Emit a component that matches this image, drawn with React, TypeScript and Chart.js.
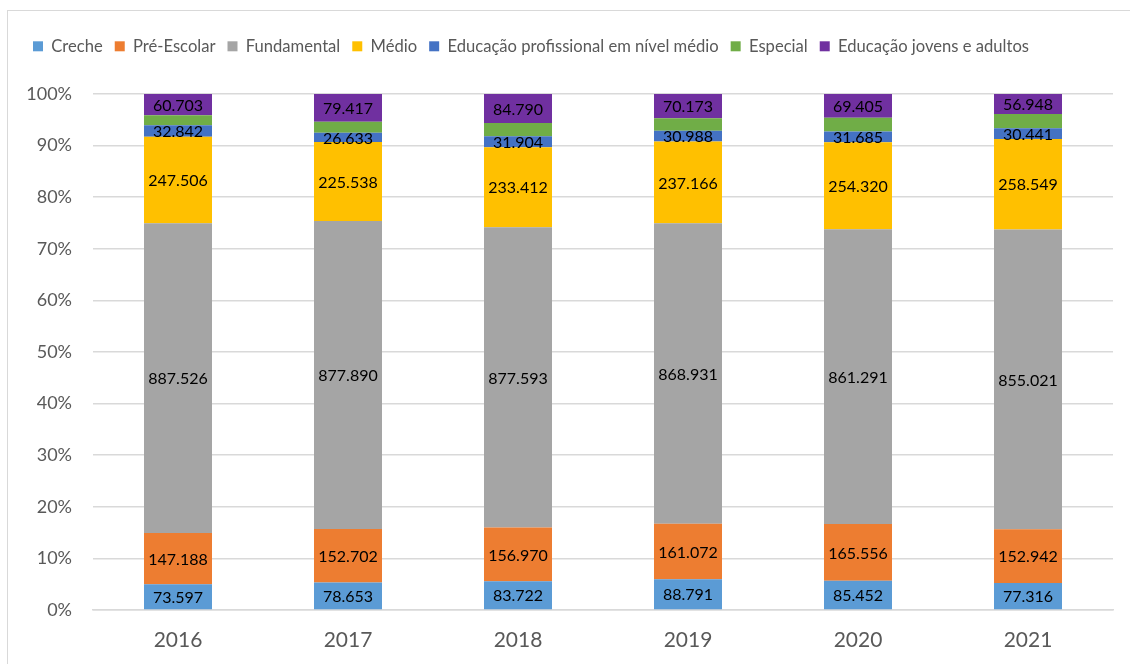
import React, { useEffect, useRef } from "react";
import { Chart, registerables } from "chart.js";

Chart.register(...registerables);

const years = ["2016", "2017", "2018", "2019", "2020", "2021"];
const seriesNames = [
  "Creche",
  "Pré-Escolar",
  "Fundamental",
  "Médio",
  "Educação profissional em nível médio",
  "Especial",
  "Educação jovens e adultos",
];
const creche = [73597, 78653, 83722, 88791, 85452, 77316];
const preEscolar = [147188, 152702, 156970, 161072, 165556, 152942];
const fundamental = [887526, 877890, 877593, 868931, 861291, 855021];
const medio = [247506, 225538, 233412, 237166, 254320, 258549];
const educProf = [32842, 26633, 31904, 30988, 31685, 30441];
const especial = [28900, 31000, 39000, 36000, 40000, 41000];
const eja = [60703, 79417, 84790, 70173, 69405, 56948];
const yTickLabels = ["0%", "10%", "20%", "30%", "40%", "50%", "60%", "70%", "80%", "90%", "100%"];

const colors = ["#5B9BD5", "#ED7D31", "#A5A5A5", "#FFC000", "#4472C4", "#70AD47", "#7030A0"];
const showLabel = [true, true, true, true, true, false, true];

const FONT = "Lato, 'Open Sans', sans-serif";

function fmt(v: number): string {
  const th = Math.floor(v / 1000);
  const rest = String(v % 1000).padStart(3, "0");
  return th + "." + rest;
}

export default function App() {
  const ref = useRef<HTMLCanvasElement | null>(null);

  useEffect(() => {
    document.body.style.margin = "0";
    const raw = [creche, preEscolar, fundamental, medio, educProf, especial, eja];
    const totals = years.map((_, i) => raw.reduce((s, arr) => s + arr[i], 0));
    const datasets = raw.map((arr, k) => ({
      label: seriesNames[k],
      data: arr.map((v, i) => (v / totals[i]) * 100),
      rawValues: arr,
      backgroundColor: colors[k],
      borderWidth: 0,
      categoryPercentage: 1,
      barPercentage: 0.4,
    }));

    const labelPlugin = {
      id: "segLabels",
      afterDatasetsDraw(chart: any) {
        const ctx = chart.ctx;
        ctx.save();
        ctx.font = `16px ${FONT}`;
        ctx.fillStyle = "#000000";
        ctx.textAlign = "center";
        ctx.textBaseline = "middle";
        chart.data.datasets.forEach((ds: any, k: number) => {
          if (!showLabel[k]) return;
          const meta = chart.getDatasetMeta(k);
          meta.data.forEach((bar: any, i: number) => {
            const y = (bar.y + bar.base) / 2;
            ctx.fillText(fmt(ds.rawValues[i]), bar.x, y + 1);
          });
        });
        ctx.restore();
      },
    };

    const legendHeightPlugin = {
      id: "legendHeight",
      beforeInit(chart: any) {
        if (chart.legend) {
          const orig = chart.legend.fit;
          chart.legend.fit = function () {
            orig.call(this);
            this.height = 68;
          };
        }
      },
    };

    const chart = new Chart(ref.current as HTMLCanvasElement, {
      type: "bar",
      data: { labels: years, datasets: datasets as any },
      options: {
        animation: false,
        responsive: false,
        devicePixelRatio: 1,
        layout: { padding: { left: 21, right: 17, top: 26, bottom: 10 } },
        plugins: {
          tooltip: { enabled: false },
          legend: {
            position: "top",
            align: "start",
            labels: {
              boxWidth: 10,
              boxHeight: 10,
              padding: 12,
              color: "#595959",
              font: { family: FONT, size: 16.6 },
            },
          },
        },
        scales: {
          x: {
            stacked: true,
            grid: { display: false, drawTicks: false },
            border: { color: "#D9D9D9", width: 1.5 },
            ticks: { color: "#595959", font: { family: FONT, size: 21 }, padding: 18 },
            afterFit: (s: any) => {
              s.height = 44;
            },
          },
          y: {
            stacked: true,
            min: 0,
            max: 100,
            grid: { color: "#D9D9D9", lineWidth: 1.5, drawTicks: false },
            border: { display: false },
            ticks: {
              stepSize: 10,
              color: "#595959",
              padding: 21,
              font: { family: FONT, size: 18 },
              callback: (v: any) => yTickLabels[Math.round(Number(v) / 10)],
            },
            afterFit: (s: any) => {
              s.width = 72;
            },
          },
        },
      },
      plugins: [labelPlugin, legendHeightPlugin],
    });
    return () => chart.destroy();
  }, []);

  return (
    <div style={{ position: "relative", width: 1130, height: 664, overflow: "hidden", background: "#fff" }}>
      <div
        style={{
          position: "absolute",
          left: 7,
          top: 10,
          width: 1200,
          height: 700,
          border: "1px solid #D9D9D9",
          boxSizing: "border-box",
        }}
      />
      <canvas ref={ref} width={1130} height={664} style={{ position: "absolute", left: 0, top: 0 }} />
    </div>
  );
}
